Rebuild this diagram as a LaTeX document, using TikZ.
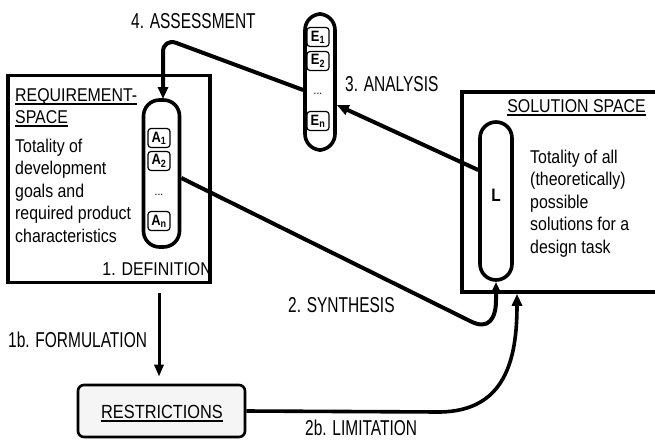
\documentclass[tikz,border=0pt]{standalone}
\usepackage{fontspec}
\setmainfont{Liberation Sans}
\newfontfamily\bodyf{Liberation Sans}[FakeStretch=0.86]
\newfontfamily\labf{Liberation Sans}[FakeStretch=0.72]
\usetikzlibrary{arrows.meta}
\tikzset{
  spacebox/.style={draw, line width=3.6pt, inner sep=0pt},
  capsule/.style={draw, line width=3.6pt, rounded corners=16pt, inner sep=0pt},
  itembox/.style={draw, line width=1.2pt, rounded corners=3pt, inner sep=0pt, minimum width=22pt, minimum height=19pt, font=\bodyf\bfseries\fontsize{15}{16}\selectfont},
  restrbox/.style={draw, line width=2.6pt, rounded corners=6pt, fill=gray!8, inner sep=0pt},
  bodytext/.style={inner sep=0pt, align=left, font=\bodyf\fontsize{18.5}{22.5}\selectfont},
  labeltext/.style={inner sep=0pt, font=\labf\fontsize{21.5}{24}\selectfont},
  uline/.style={line width=1.6pt},
  arr/.style={line width=4pt, -{Triangle[length=12pt,width=10pt]}},
  arrthin/.style={line width=3pt, -{Triangle[length=12pt,width=9pt]}},
}
\begin{document}
\begin{tikzpicture}[x=1pt,y=-1pt]
\useasboundingbox (0,0) rectangle (655,439);
\clip (0,0) rectangle (655,439);
% boxes
\node[spacebox, minimum width=202pt, minimum height=207pt] (Q) at (109,179) {};
\node[spacebox, minimum width=198pt, minimum height=200pt] (S) at (561,192) {};
\node[restrbox, minimum width=167pt, minimum height=52pt] (R) at (161.5,411) {};
\node[font=\bodyf\fontsize{19}{20}\selectfont, inner sep=0pt, anchor=base] (rt) at (162,418) {RESTRICTIONS};
\draw[uline] ([yshift=-3pt]rt.base west) -- ([yshift=-3pt]rt.base east);
% capsules
\node[capsule, minimum width=36pt, minimum height=147pt] (A) at (161.5,173.5) {};
\node[capsule, minimum width=30pt, minimum height=136pt] (E) at (320,82) {};
\node[capsule, minimum width=32pt, minimum height=158pt] (L) at (496,201) {};
\node[font=\bodyf\bfseries\fontsize{18}{20}\selectfont, inner sep=0pt] (Lt) at (496,195) {L};
% items
\node[itembox] (a1) at (159,138) {A\textsubscript{1}};
\node[itembox] (a2) at (159,161) {A\textsubscript{2}};
\node[font=\bodyf\fontsize{12}{14}\selectfont] (ad) at (159,195) {...};
\node[itembox] (an) at (159,221) {A\textsubscript{n}};
\node[itembox] (e1) at (318,37) {E\textsubscript{1}};
\node[itembox] (e2) at (318,61) {E\textsubscript{2}};
\node[font=\bodyf\fontsize{12}{14}\selectfont] (ed) at (318,94) {...};
\node[itembox] (en) at (318,121) {E\textsubscript{n}};
% texts in requirement space
\node[bodytext, anchor=base west] (rq1) at (15,101) {REQUIREMENT-};
\draw[uline] ([yshift=-3pt]rq1.base west) -- ([yshift=-3pt]rq1.base east);
\node[bodytext, anchor=base west] (rq2) at (15,123) {SPACE};
\draw[uline] ([yshift=-3pt]rq2.base west) -- ([yshift=-3pt]rq2.base east);
\node[bodytext, anchor=base west] (rq3) at (15,242) {Totality of\\development\\goals and\\required product\\characteristics};
\node[bodytext, anchor=base east] (def) at (212,275) {1. DEFINITION};
% texts in solution space
\node[font=\bodyf\fontsize{18.5}{20}\selectfont, inner sep=0pt, anchor=base east] (st) at (646,112) {SOLUTION SPACE};
\draw[uline] ([yshift=-3pt]st.base west) -- ([yshift=-3pt]st.base east);
\node[bodytext, anchor=base west] (sx) at (530,253) {Totality of all\\(theoretically)\\possible\\solutions for a\\design task};
% connectors
\coordinate (fstart) at (159,293);
\draw[arr, rounded corners=14pt] ([yshift=-8pt]E.west) -- (163,38) -- (163,99);
\draw[arr] ([yshift=31pt]L.west) -- ([yshift=-23pt]E.east);
\draw[arr] ([yshift=-4.5pt]A.east) -- (470,321) .. controls (489,331) and (496,318) .. (496,300) -- (L.south);
\draw[arrthin, shorten >=7pt] (fstart) -- (fstart |- R.north);
\draw[arr, line width=3.6pt] (R.east) -- (440,412) .. controls (505,411) and (517,360) .. ([xshift=-44pt]S.south);
% labels
\node[labeltext, anchor=base west] (l4) at (131,28) {4. ASSESSMENT};
\node[labeltext, anchor=base west] (l3) at (345,91) {3. ANALYSIS};
\node[labeltext, anchor=base west] (l2) at (288,312) {2. SYNTHESIS};
\node[labeltext, anchor=base west] (l1b) at (8,347) {1b. FORMULATION};
\node[labeltext, anchor=base west] (l2b) at (305,435) {2b. LIMITATION};
\end{tikzpicture}
\end{document}
